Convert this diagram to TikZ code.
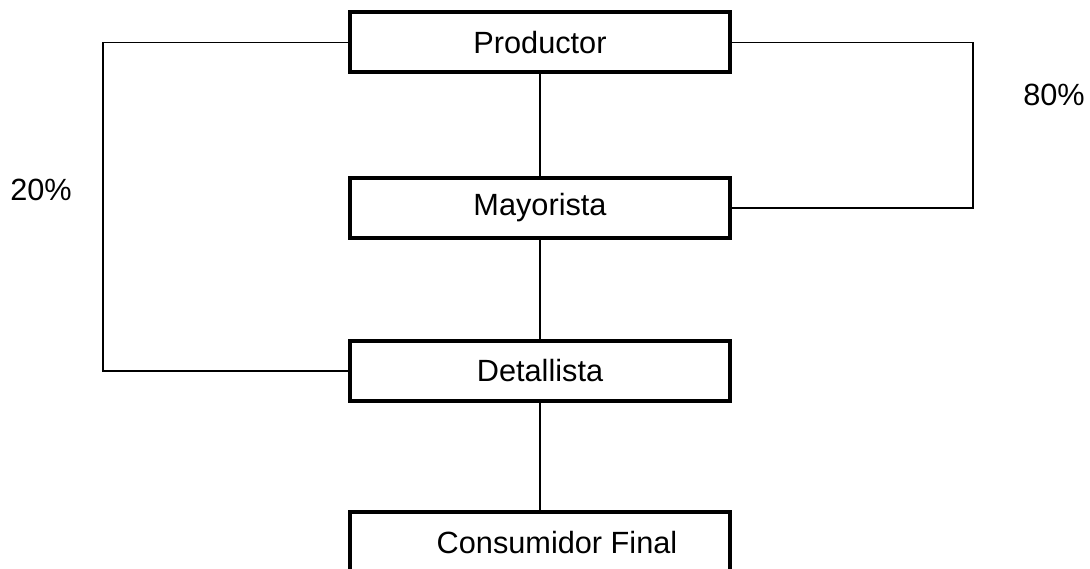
\documentclass[tikz,border=0pt]{standalone}
\usepackage{fontspec}
\setmainfont{Liberation Sans}
\usetikzlibrary{positioning}

\tikzset{
  caja/.style={draw,line width=4pt,minimum width=380pt,minimum height=60pt,inner sep=0pt},
  enlace/.style={line width=1.6pt},
  etiqueta/.style={inner sep=0pt}
}

\begin{document}
\begin{tikzpicture}[x=1pt,y=-1pt,font=\fontsize{30.7}{36}\selectfont]
    \useasboundingbox (0,0) rectangle (1090,569);

    % --------------------------------------------------------- %
    % ------------- cadena principal
    % --------------------------------------------------------- %
    \node[caja] (prod) at (540,42.5) {Productor};
    \node[caja] (may) at (540,208) {Mayorista};
    \node[caja] (det) at (540,371) {Detallista};
    \node[caja] (cons) at (540,542) {};
    \node[etiqueta] (txtcons) at (557,543) {Consumidor Final};

    \draw[enlace] (prod) -- (may);
    \draw[enlace] (may) -- (det);
    \draw[enlace] (det) -- (cons);

    % --------------------------------------------------------- %
    % ------------ canales directos
    % --------------------------------------------------------- %
    \coordinate (izq) at (103,200);
    \draw[enlace] (prod.west) -| (izq) |- (det.west);
    \node[etiqueta] (veinte) at (41,190) {20\%};

    \coordinate (der) at (973,120);
    \draw[enlace] (prod.east) -| (der) |- (may.east);
    \node[etiqueta] (ochenta) at (1054,95) {80\%};

\end{tikzpicture}
\end{document}
